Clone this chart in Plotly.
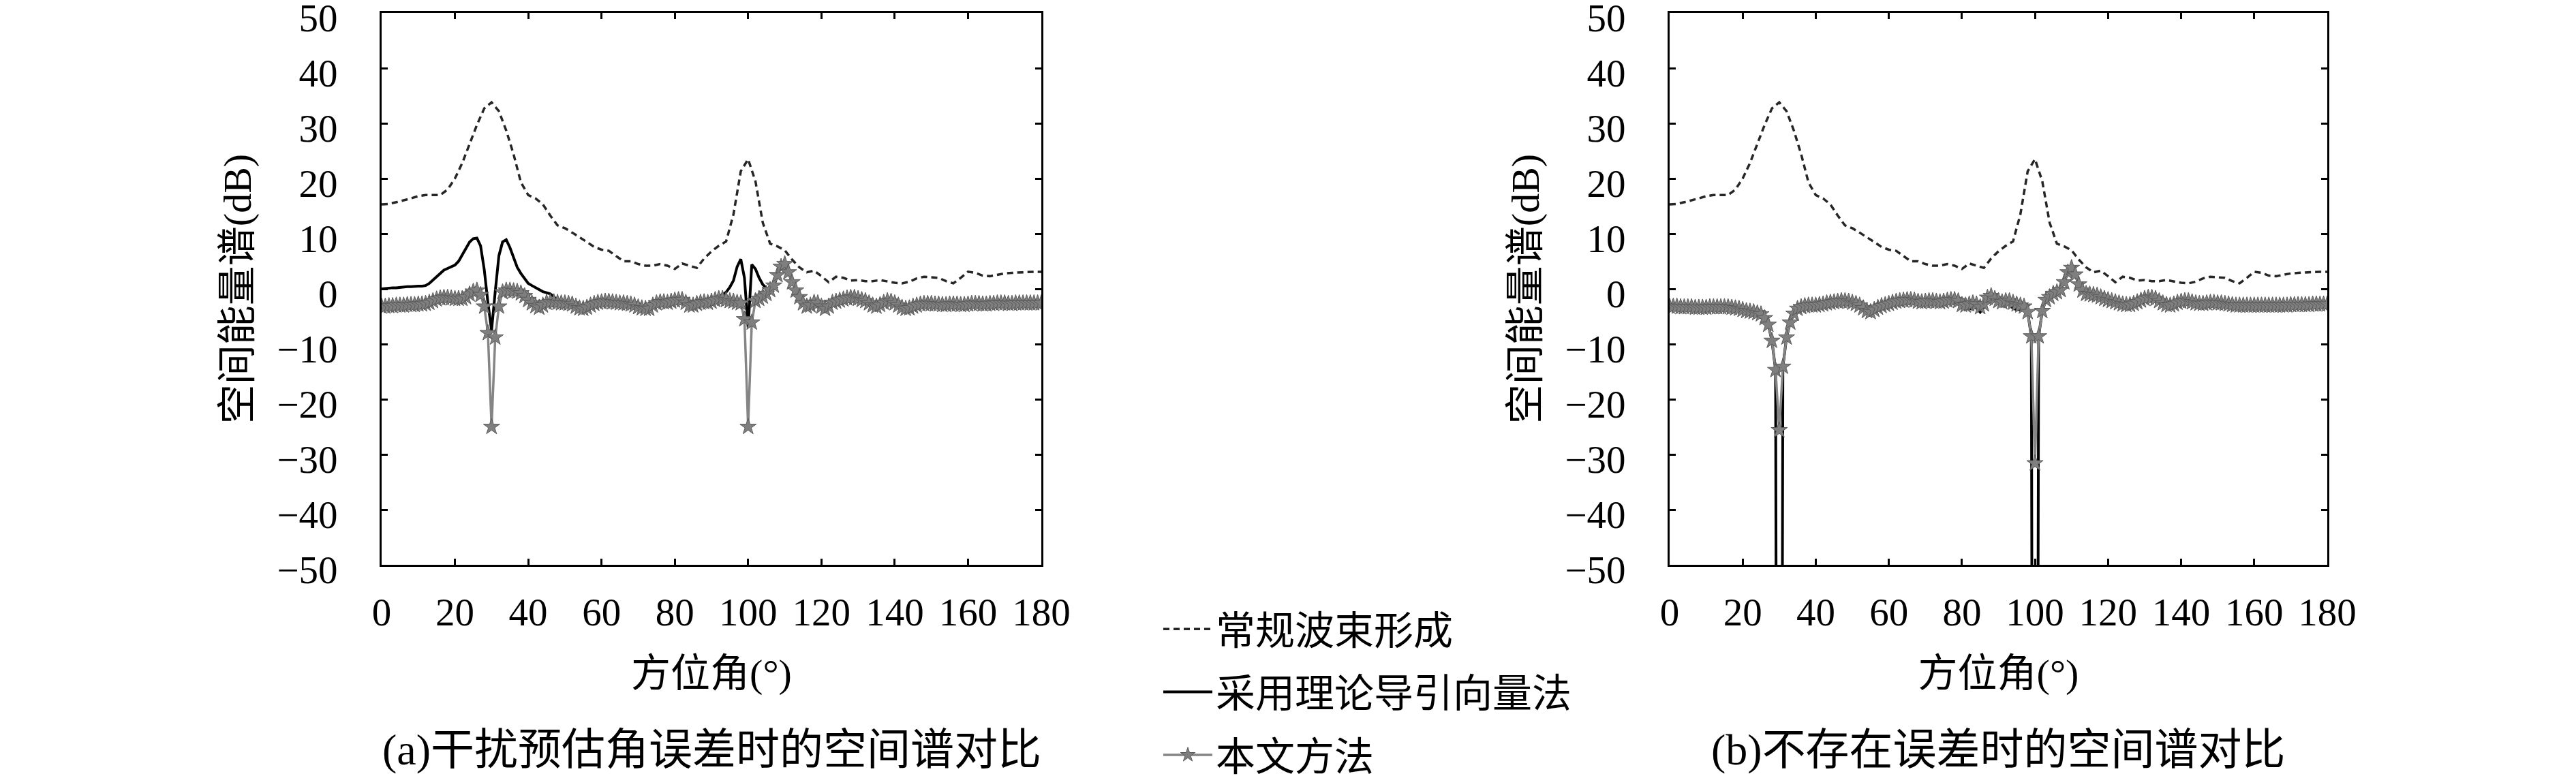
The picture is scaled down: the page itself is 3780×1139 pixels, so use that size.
import plotly.graph_objects as go
from plotly.subplots import make_subplots

# azimuth grids (degrees)
deg_1 = list(range(0, 181))
deg_2 = list(range(0, 181, 2))

# conventional beamforming, read every 2 degrees (same curve in both panels)
conv_db = [
    15.3, 15.4, 15.7, 16.0, 16.4, 16.8, 17.0, 17.0, 17.0, 18.0,
    20.0, 22.8, 26.3, 29.7, 32.7, 33.8, 32.2, 28.7, 24.4, 19.3,
    17.0, 16.4, 15.3, 13.3, 11.5, 11.0, 10.2, 9.4, 8.5, 7.6,
    7.1, 6.9, 6.0, 5.0, 5.0, 4.5, 4.2, 4.2, 4.5, 4.2,
    3.6, 4.6, 4.2, 3.8, 5.5, 6.8, 7.8, 8.6, 13.5, 21.3,
    23.5, 19.5, 12.0, 8.2, 7.7, 7.0, 5.3, 3.9, 3.0, 3.3,
    2.3, 1.2, 2.2, 2.0, 1.5, 1.6, 1.4, 1.4, 1.6, 1.3,
    1.1, 1.0, 1.3, 1.9, 2.2, 2.1, 2.0, 1.4, 1.0, 2.0,
    3.1, 2.9, 2.4, 2.3, 2.6, 2.8, 2.9, 3.0, 3.0, 3.1,
    3.1,
]

# (a) theoretical steering vector method
steer_a = [
    0.0, 0.1, 0.1, 0.2, 0.2, 0.3, 0.3, 0.4, 0.4, 0.5,
    0.5, 0.5, 0.6, 1.0, 1.6, 2.3, 2.9, 3.4, 3.7, 4.0,
    4.3, 5.0, 6.2, 7.5, 8.5, 9.1, 9.2, 7.8, 3.5, -2.5,
    -7.5, -0.5, 6.0, 8.5, 8.9, 7.5, 5.6, 3.9, 2.8, 1.8,
    1.0, 0.6, 0.2, -0.2, -0.5, -0.7, -0.9, -1.4, -2.2, -2.6,
    -2.6, -2.7, -2.8, -3.2, -3.5, -3.6, -3.4, -3.0, -2.7, -2.5,
    -2.4, -2.3, -2.3, -2.4, -2.5, -2.6, -2.6, -2.7, -2.8, -3.0,
    -3.3, -3.5, -3.6, -3.6, -3.0, -2.6, -2.4, -2.4, -2.5, -2.3,
    -2.1, -2.0, -2.0, -2.5, -3.0, -3.0, -2.7, -2.5, -2.4, -1.9,
    -1.7, -1.5, -1.3, -1.1, -0.6, 0.3, 1.5, 4.0, 5.4, 2.0,
    -7.0, 4.4, 3.6, 2.0, 0.8, 0.1, -0.3, 0.4, 2.5, 4.0,
    4.5, 3.0, 1.2, -0.3, -1.5, -2.6, -3.2, -3.0, -2.5, -2.6,
    -3.2, -3.6, -3.2, -2.5, -2.3, -2.1, -1.9, -1.7, -1.6, -1.6,
    -1.8, -2.0, -2.2, -2.6, -3.0, -3.2, -2.9, -2.5, -2.2, -2.3,
    -2.6, -3.0, -3.4, -3.6, -3.5, -3.2, -3.0, -2.8, -2.7, -2.7,
    -2.7, -2.8, -2.8, -2.9, -2.9, -2.8, -2.8, -2.8, -2.9, -2.9,
    -2.8, -2.7, -2.7, -2.7, -2.8, -2.8, -2.7, -2.7, -2.6, -2.6,
    -2.6, -2.7, -2.7, -2.6, -2.6, -2.6, -2.6, -2.6, -2.6, -2.6,
    -2.6,
]

# (a) proposed method
prop_a = [
    -3.2, -3.2, -3.1, -3.1, -3.0, -3.0, -3.0, -2.9, -2.9, -2.9,
    -2.8, -2.8, -2.7, -2.5, -2.2, -1.9, -1.7, -1.6, -1.6, -1.7,
    -1.8, -1.8, -1.8, -1.5, -1.0, -0.5, -0.3, -1.1, -3.2, -8.0,
    -25.0, -8.8, -3.2, -0.6, -0.3, -0.3, -0.4, -0.5, -0.8, -1.3,
    -2.0, -2.6, -3.1, -3.4, -3.0, -2.5, -2.4, -2.4, -2.5, -2.6,
    -2.6, -2.7, -2.8, -3.2, -3.5, -3.6, -3.4, -3.0, -2.7, -2.5,
    -2.4, -2.3, -2.3, -2.4, -2.5, -2.6, -2.6, -2.7, -2.8, -3.0,
    -3.3, -3.5, -3.6, -3.6, -3.0, -2.6, -2.4, -2.4, -2.5, -2.3,
    -2.1, -2.0, -2.0, -2.5, -3.0, -3.0, -2.7, -2.5, -2.4, -2.5,
    -2.3, -2.0, -1.8, -1.8, -2.0, -2.2, -2.3, -2.5, -2.6, -5.5,
    -25.0, -6.1, -2.2, -1.8, -1.4, -0.9, -0.2, 0.6, 2.5, 4.0,
    4.5, 3.0, 1.2, -0.3, -1.5, -2.6, -3.2, -3.0, -2.5, -2.6,
    -3.2, -3.6, -3.2, -2.5, -2.3, -2.1, -1.9, -1.7, -1.6, -1.6,
    -1.8, -2.0, -2.2, -2.6, -3.0, -3.2, -2.9, -2.5, -2.2, -2.3,
    -2.6, -3.0, -3.4, -3.6, -3.5, -3.2, -3.0, -2.8, -2.7, -2.7,
    -2.7, -2.8, -2.8, -2.9, -2.9, -2.8, -2.8, -2.8, -2.9, -2.9,
    -2.8, -2.7, -2.7, -2.7, -2.8, -2.8, -2.7, -2.7, -2.6, -2.6,
    -2.6, -2.7, -2.7, -2.6, -2.6, -2.6, -2.6, -2.6, -2.6, -2.6,
    -2.6,
]

# (b) theoretical steering vector method (nulls drop far below -50 dB)
steer_b = [
    -3.2, -3.2, -3.2, -3.3, -3.3, -3.3, -3.3, -3.4, -3.4, -3.4,
    -3.4, -3.3, -3.3, -3.3, -3.3, -3.3, -3.3, -3.4, -3.5, -3.6,
    -3.8, -4.0, -4.1, -4.2, -4.4, -4.6, -5.3, -6.5, -9.4, -14.7,
    -300.0, -14.1, -8.8, -6.1, -4.5, -3.6, -3.3, -3.1, -3.0, -3.0,
    -3.0, -2.9, -2.8, -2.6, -2.5, -2.4, -2.3, -2.2, -2.2, -2.3,
    -2.5, -2.7, -3.0, -3.5, -4.0, -4.2, -3.8, -3.4, -3.1, -2.9,
    -2.7, -2.5, -2.3, -2.2, -2.1, -2.0, -2.0, -2.1, -2.3, -2.4,
    -2.3, -2.2, -2.2, -2.3, -2.4, -2.3, -2.1, -2.0, -2.0, -2.2,
    -3.2, -3.5, -3.7, -3.3, -3.5, -4.2, -3.3, -1.6, -1.3, -1.8,
    -2.2, -2.4, -2.6, -2.9, -3.5, -3.8, -3.7, -3.5, -4.2, -8.6,
    -300.0, -8.6, -4.0, -2.0, -1.5, -0.9, -0.6, -0.2, 1.2, 3.0,
    3.8, 2.6, 0.8, -0.3, -0.9, -1.0, -1.1, -1.2, -1.5, -1.8,
    -2.0, -2.2, -2.4, -2.6, -3.0, -3.2, -3.4, -3.2, -2.8, -2.1,
    -1.8, -1.6, -1.6, -1.8, -2.2, -2.6, -2.9, -3.0, -2.8, -2.5,
    -2.3, -2.2, -2.2, -2.4, -2.6, -2.7, -2.7, -2.6, -2.5, -2.5,
    -2.6, -2.6, -2.7, -2.8, -2.9, -3.0, -3.0, -3.0, -3.0, -3.0,
    -3.0, -3.0, -3.0, -3.0, -3.0, -3.0, -3.0, -3.0, -3.0, -3.0,
    -2.9, -2.9, -2.9, -2.9, -2.9, -2.9, -2.8, -2.8, -2.8, -2.8,
    -2.8,
]

# (b) proposed method
prop_b = [
    -3.2, -3.2, -3.2, -3.3, -3.3, -3.3, -3.3, -3.4, -3.4, -3.4,
    -3.4, -3.3, -3.3, -3.3, -3.3, -3.3, -3.3, -3.4, -3.5, -3.6,
    -3.8, -4.0, -4.1, -4.2, -4.4, -4.6, -5.3, -6.5, -9.4, -14.7,
    -25.6, -14.1, -8.8, -6.1, -4.5, -3.6, -3.3, -3.1, -3.0, -3.0,
    -3.0, -2.9, -2.8, -2.6, -2.5, -2.4, -2.3, -2.2, -2.2, -2.3,
    -2.5, -2.7, -3.0, -3.5, -4.0, -4.2, -3.8, -3.4, -3.1, -2.9,
    -2.7, -2.5, -2.3, -2.2, -2.1, -2.0, -2.0, -2.1, -2.3, -2.4,
    -2.3, -2.2, -2.2, -2.3, -2.4, -2.3, -2.1, -2.0, -2.0, -2.2,
    -2.9, -3.0, -2.8, -2.6, -2.8, -3.3, -2.8, -1.6, -1.3, -1.8,
    -2.2, -2.4, -2.2, -2.2, -2.5, -2.8, -3.0, -3.2, -4.2, -8.6,
    -31.6, -8.6, -4.0, -2.0, -1.5, -0.9, -0.6, -0.2, 1.2, 3.0,
    3.8, 2.6, 0.8, -0.3, -0.9, -1.0, -1.1, -1.2, -1.5, -1.8,
    -2.0, -2.2, -2.4, -2.6, -2.8, -2.9, -2.9, -2.7, -2.4, -2.1,
    -1.8, -1.6, -1.6, -1.8, -2.2, -2.6, -2.9, -3.0, -2.8, -2.5,
    -2.3, -2.2, -2.2, -2.4, -2.6, -2.7, -2.7, -2.6, -2.5, -2.5,
    -2.6, -2.6, -2.7, -2.8, -2.9, -3.0, -3.0, -3.0, -3.0, -3.0,
    -3.0, -3.0, -3.0, -3.0, -3.0, -3.0, -3.0, -3.0, -3.0, -3.0,
    -2.9, -2.9, -2.9, -2.9, -2.9, -2.9, -2.8, -2.8, -2.8, -2.8,
    -2.8,
]

names = ["常规波束形成", "采用理论导引向量法", "本文方法"]
captions = ["(a)干扰预估角误差时的空间谱对比", "(b)不存在误差时的空间谱对比"]
x_ticks = list(range(0, 181, 20))
y_ticks = list(range(-50, 51, 10))

W, H = 3780, 1139
FONT = "Liberation Serif, Noto Sans CJK SC, serif"

fig = make_subplots(rows=1, cols=2)

panels = [(steer_a, prop_a), (steer_b, prop_b)]
for i, (steer, prop) in enumerate(panels):
    col = i + 1
    first = i == 0
    fig.add_trace(go.Scatter(
        x=deg_2, y=conv_db, mode="lines", name=names[0],
        line=dict(color="#262626", width=3.5, dash="9px,6px"),
        showlegend=first, legendgroup="g0"), row=1, col=col)
    fig.add_trace(go.Scatter(
        x=deg_1, y=steer, mode="lines", name=names[1],
        line=dict(color="#000000", width=4),
        showlegend=first, legendgroup="g1"), row=1, col=col)
    fig.add_trace(go.Scatter(
        x=deg_1, y=prop, mode="lines+markers", name=names[2],
        line=dict(color="#858585", width=3.5),
        marker=dict(symbol="star", size=18, color="#7f7f7f",
                    line=dict(width=1, color="#5a5a5a")),
        showlegend=first, legendgroup="g2"), row=1, col=col)

axis_style = dict(
    showline=True, linecolor="black", linewidth=3, mirror="ticks",
    ticks="inside", ticklen=9, tickwidth=3, tickcolor="black",
    showgrid=False, zeroline=False, ticklabeloverflow="allow",
    automargin=False,
    tickfont=dict(family=FONT, size=57, color="black"),
)

y_dom = [1 - 821 / H, 1 - 11 / H]
x_doms = [[552 / W, 1520 / W], [2442 / W, 3407 / W]]
for i in range(2):
    fig.update_xaxes(axis_style, row=1, col=i + 1, domain=x_doms[i],
                     range=[0, 180], tickvals=x_ticks, ticklabelstandoff=18,
                     title=dict(text="方位角(°)", standoff=38,
                                font=dict(family=FONT, size=58, color="black")))
    fig.update_yaxes(axis_style, row=1, col=i + 1, domain=y_dom,
                     range=[-50, 50], tickvals=y_ticks, ticklabelstandoff=50,
                     ticklabelshift=7,
                     title=dict(text="空间能量谱(dB)", standoff=20,
                                font=dict(family=FONT, size=58, color="black")))

for i, cap in enumerate(captions):
    fig.add_annotation(text=cap, xref="paper", yref="paper",
                       x=sum(x_doms[i]) / 2, y=1 - 1092 / H,
                       xanchor="center", yanchor="middle", showarrow=False,
                       font=dict(family=FONT, size=64, color="black"))

fig.update_layout(
    width=W, height=H,
    margin=dict(l=0, r=0, t=0, b=0, autoexpand=False),
    paper_bgcolor="white", plot_bgcolor="white",
    showlegend=True,
    legend=dict(x=1694 / W, y=1 - 871 / H, xanchor="left", yanchor="top",
                itemwidth=72, tracegroupgap=14, bgcolor="rgba(0,0,0,0)",
                font=dict(family=FONT, size=58, color="black")),
)

fig.write_html("out.html")
